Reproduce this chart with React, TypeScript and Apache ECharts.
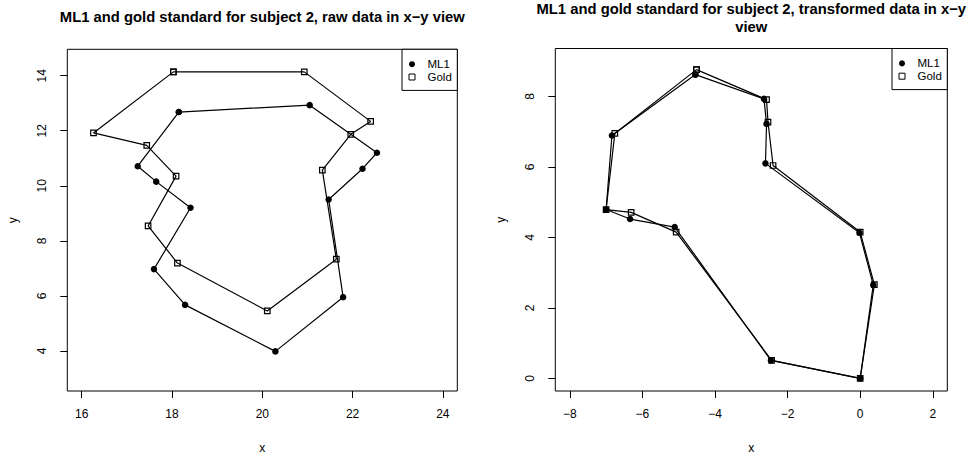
import React, { useEffect, useRef } from "react";
import * as echarts from "echarts";

// Left panel: raw data
const rawMl1X = [18.15, 21.05, 22.54, 22.22, 21.47, 21.79, 20.29, 18.29, 17.6, 18.41, 17.65, 17.24];
const rawMl1Y = [12.68, 12.93, 11.2, 10.62, 9.5, 5.95, 3.98, 5.67, 6.97, 9.2, 10.15, 10.71];
const rawGoldX = [18.03, 20.93, 22.4, 21.96, 21.33, 21.64, 20.11, 18.12, 17.47, 18.09, 17.44, 16.26];
const rawGoldY = [14.14, 14.14, 12.34, 11.87, 10.57, 7.33, 5.45, 7.19, 8.54, 10.35, 11.47, 11.92];

// Right panel: transformed data
const trMl1X = [-4.54, -2.65, -2.58, -2.61, -0.02, 0.36, 0, -2.46, -5.11, -6.34, -7.0, -6.84];
const trMl1Y = [8.62, 7.93, 7.22, 6.1, 4.13, 2.65, 0, 0.51, 4.29, 4.52, 4.79, 6.89];
const trGoldX = [-4.51, -2.58, -2.54, -2.4, 0.0, 0.39, 0, -2.44, -5.07, -6.31, -7.0, -6.76];
const trGoldY = [8.76, 7.91, 7.27, 6.04, 4.15, 2.66, 0, 0.51, 4.15, 4.71, 4.79, 6.95];

// Tick labels
const rawXTicks = [16, 18, 20, 22, 24];
const rawYTicks = [4, 6, 8, 10, 12, 14];
const trXTicks = [-8, -6, -4, -2, 0, 2];
const trYTicks = [0, 2, 4, 6, 8];

const seriesNames = ["ML1", "Gold"];
const titles = [
  "ML1 and gold standard for subject 2, raw data in x\u2212y view",
  "ML1 and gold standard for subject 2, transformed data in x\u2212y\nview",
];

const FONT = "'Liberation Sans', Arial, Helvetica, sans-serif";

function closed(xs: number[], ys: number[]) {
  const pts = xs.map((x, i) => [x, ys[i]]);
  return pts.concat([pts[0]]);
}

const fmt = (v: number) => String(v).replace("-", "\u2212");

function xAxis(gridIndex: number, min: number, max: number, ticks: number[]) {
  return {
    type: "value",
    gridIndex,
    min,
    max,
    name: "x",
    nameLocation: "middle",
    nameGap: 51,
    nameTextStyle: { color: "#000", fontSize: 12, fontFamily: FONT },
    axisLine: { show: false, onZero: false },
    axisTick: { show: true, length: 7, customValues: ticks, lineStyle: { color: "#000", width: 1 } },
    axisLabel: { customValues: ticks, color: "#000", fontSize: 12, fontFamily: FONT, margin: 17, formatter: fmt },
    splitLine: { show: false },
  };
}

function yAxis(gridIndex: number, min: number, max: number, ticks: number[]) {
  return {
    type: "value",
    gridIndex,
    min,
    max,
    name: "y",
    nameLocation: "middle",
    nameGap: 48,
    nameRotate: 90,
    nameTextStyle: { color: "#000", fontSize: 12, fontFamily: FONT },
    axisLine: { show: false, onZero: false },
    axisTick: { show: true, length: 7, customValues: ticks, lineStyle: { color: "#000", width: 1 } },
    axisLabel: { customValues: ticks, color: "#000", fontSize: 12, fontFamily: FONT, margin: 19, rotate: 90, formatter: fmt },
    splitLine: { show: false },
  };
}

function ml1Series(idx: number, data: number[][]) {
  return {
    type: "line",
    name: seriesNames[0],
    xAxisIndex: idx,
    yAxisIndex: idx,
    data,
    symbol: "circle",
    symbolSize: 6.5,
    lineStyle: { color: "#000", width: 1.2 },
    itemStyle: { color: "#000" },
    z: 2,
  };
}

function goldSeries(idx: number, data: number[][]) {
  return {
    type: "line",
    name: seriesNames[1],
    xAxisIndex: idx,
    yAxisIndex: idx,
    data,
    symbol: "rect",
    symbolSize: 5.5,
    lineStyle: { color: "#000", width: 1.2 },
    itemStyle: { color: "rgba(255,255,255,0)", borderColor: "#000", borderWidth: 1.2 },
    z: 3,
  };
}

function legend(right: number, top: number) {
  return {
    orient: "vertical",
    right,
    top,
    padding: [8.5, 5.5, 7, 6.5],
    itemGap: 0,
    itemWidth: 6,
    itemHeight: 6,
    borderColor: "#000",
    borderWidth: 1,
    backgroundColor: "#fff",
    selectedMode: false,
    textStyle: { color: "#000", fontSize: 11.5, fontFamily: FONT, lineHeight: 12.8, padding: [0, 0, 0, 7.5] },
    data: [
      { name: seriesNames[0], icon: "circle", itemStyle: { color: "#000", borderWidth: 0 } },
      { name: seriesNames[1], icon: "rect", itemStyle: { color: "#fff", borderColor: "#000", borderWidth: 1 } },
    ],
  };
}

export default function App() {
  const ref = useRef<HTMLDivElement>(null);
  useEffect(() => {
    if (!ref.current) return;
    const chart = echarts.init(ref.current, null, { renderer: "svg" });
    chart.setOption({
      animation: false,
      backgroundColor: "#fff",
      title: [
        {
          text: titles[0],
          left: 262.3,
          top: 9,
          padding: 0,
          textAlign: "center",
          textStyle: { color: "#000", fontSize: 14.8, fontWeight: "bold", fontFamily: FONT, lineHeight: 16 },
        },
        {
          text: titles[1],
          left: 751.3,
          top: 0,
          padding: 0,
          textAlign: "center",
          textStyle: { color: "#000", fontSize: 14.8, fontWeight: "bold", fontFamily: FONT, lineHeight: 18 },
        },
      ],
      grid: [
        { left: 67.3, top: 49.3, width: 390, height: 347.4, show: true, borderColor: "#000", borderWidth: 1, backgroundColor: "transparent" },
        { left: 555.3, top: 48.5, width: 392, height: 347.5, show: true, borderColor: "#000", borderWidth: 1, backgroundColor: "transparent" },
      ],
      xAxis: [xAxis(0, 15.68, 24.32, rawXTicks), xAxis(1, -8.4, 2.4, trXTicks)],
      yAxis: [yAxis(0, 2.54, 14.96, rawYTicks), yAxis(1, -0.36, 9.36, trYTicks)],
      legend: [legend(968 - 457.3, 49.3), legend(968 - 947.3, 48.5)],
      series: [
        ml1Series(0, closed(rawMl1X, rawMl1Y)),
        goldSeries(0, closed(rawGoldX, rawGoldY)),
        ml1Series(1, closed(trMl1X, trMl1Y)),
        goldSeries(1, closed(trGoldX, trGoldY)),
      ],
    });
    return () => chart.dispose();
  }, []);
  return <div ref={ref} style={{ position: "absolute", left: 0, top: 0, width: 968, height: 459 }} />;
}
